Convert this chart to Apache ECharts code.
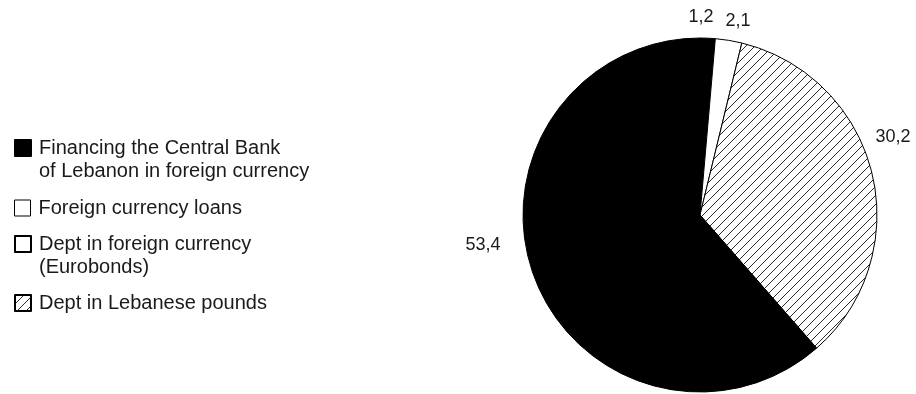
<!DOCTYPE html>
<html>
<head>
<meta charset="utf-8">
<script src="https://cdn.jsdelivr.net/npm/echarts@6/dist/echarts.min.js"></script>
<style>
  html, body { margin: 0; background: #fff; }
  #chart { width: 916px; height: 394px; }
</style>
</head>
<body>
<div id="chart"></div>
<script>
  // slices, clockwise from 12 o'clock
  const categories = [
    'Foreign currency loans',
    'Dept in foreign currency\n(Eurobonds)',
    'Dept in Lebanese pounds',
    'Financing the Central Bank\nof Lebanon in foreign currency'
  ];
  const values = [1.2, 2.1, 30.2, 53.4];
  // legend shows the items in this order
  const legendOrder = [3, 0, 1, 2];

  function hatch() {
    const c = document.createElement('canvas');
    c.width = 9;
    c.height = 9;
    const g = c.getContext('2d');
    g.fillStyle = '#fff';
    g.fillRect(0, 0, 9, 9);
    g.strokeStyle = '#2a2a2a';
    g.lineWidth = 1;
    g.beginPath(); g.moveTo(-1, 10); g.lineTo(10, -1); g.stroke();
    g.beginPath(); g.moveTo(-1, 1); g.lineTo(1, -1); g.stroke();
    g.beginPath(); g.moveTo(8, 10); g.lineTo(10, 8); g.stroke();
    return c;
  }

  const fills = ['#000', '#fff', { image: hatch(), repeat: 'repeat' }, '#000'];
  // label centres (px)
  const labelSpots = [[701, 17], [738, 21], [893, 137], [483, 245]];
  // icon centre y of each legend row
  const legendRows = [148, 208, 244, 303];

  const lineH = 23;
  let legends = legendOrder.map((idx, row) => {
    const twoLines = categories[idx].indexOf('\n') >= 0;
    let item = { name: categories[idx] };
    if (idx === 0) {
      item.itemStyle = { color: '#fff', borderColor: '#000', borderWidth: 1 };
    }
    return {
      orient: 'vertical',
      left: 14,
      top: legendRows[row] - (twoLines ? lineH * 1.5 : lineH / 2),
      padding: 0,
      icon: 'rect',
      itemWidth: 16,
      itemHeight: 16,
      selectedMode: false,
      data: [item],
      // a blank first line keeps the icon level with the first text line
      formatter: name => (twoLines ? '\u00a0\n' + name : name),
      textStyle: {
        fontFamily: 'Liberation Sans, Arial, sans-serif',
        fontSize: 20,
        color: '#1a1a1a',
        lineHeight: lineH,
        padding: [0, 0, 0, 3]
      }
    };
  });

  let chart = echarts.init(document.getElementById('chart'));
  chart.setOption({
    animation: false,
    backgroundColor: '#fff',
    legend: legends,
    series: [{
      type: 'pie',
      center: [700, 215],
      radius: 177,
      startAngle: 90,
      clockwise: true,
      avoidLabelOverlap: false,
      itemStyle: { borderColor: '#000', borderWidth: 1 },
      emphasis: { disabled: true },
      label: {
        show: true,
        position: 'outside',
        fontFamily: 'Liberation Sans, Arial, sans-serif',
        fontSize: 18,
        color: '#1a1a1a',
        formatter: p => String(p.value).replace('.', ',')
      },
      labelLine: { show: false },
      labelLayout: p => ({
        x: labelSpots[p.dataIndex][0],
        y: labelSpots[p.dataIndex][1],
        align: 'center',
        verticalAlign: 'middle'
      }),
      data: values.map((v, i) => ({
        name: categories[i],
        value: v,
        itemStyle: { color: fills[i] }
      }))
    }]
  });
</script>
</body>
</html>
